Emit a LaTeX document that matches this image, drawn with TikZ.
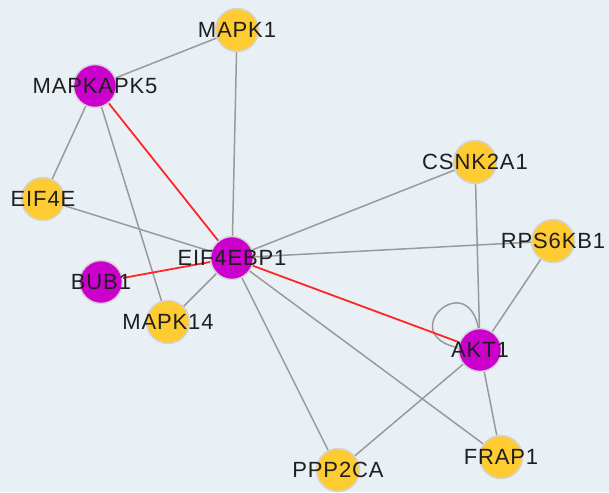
\documentclass[tikz,border=0pt]{standalone}
\usepackage{fontspec}
\newfontfamily\genefont[LetterSpace=4]{Liberation Sans}
\usepackage{tikz}

\definecolor{bgblue}{HTML}{E8F0F6}
\definecolor{geneyellow}{HTML}{FECB33}
\definecolor{genemagenta}{HTML}{CC00CC}
\definecolor{ringgrey}{HTML}{D4D4D4}
\definecolor{edgegrey}{HTML}{9A9A9A}
\definecolor{hitred}{HTML}{FF2626}

\pgfdeclarelayer{edges}
\pgfsetlayers{edges,main}

\begin{document}
\begin{tikzpicture}[x=1pt, y=-1pt,
	gene/.style={circle, draw=ringgrey, line width=1.5pt, minimum size=43pt, inner sep=0pt},
	target/.style={gene, fill=geneyellow},
	hub/.style={gene, fill=genemagenta},
	every label/.style={font=\genefont\fontsize{22pt}{22pt}\selectfont, text=black!88},
	link/.style={draw=edgegrey, line width=1.5pt},
	hit/.style={draw=hitred, line width=1.8pt}]
	\begin{pgfonlayer}{edges}
	\fill[bgblue] (0,0) rectangle (609,492);
	\end{pgfonlayer}
	\useasboundingbox (0,0) rectangle (609,492);

	\node[target, label=center:MAPK1] (mapk1) at (237,30) {};
	\node[hub, label=center:MAPKAPK5] (mapkapk5) at (95,86) {};
	\node[target, label=center:EIF4E] (eif4e) at (43,199) {};
	\node[hub, label=center:EIF4EBP1] (eif4ebp1) at (232,258) {};
	\node[hub, label=center:BUB1] (bub1) at (101,282) {};
	\node[target, label=center:MAPK14] (mapk14) at (168,322) {};
	\node[target, label=center:CSNK2A1] (csnk2a1) at (475,162) {};
	\node[target, label=center:RPS6KB1] (rps6kb1) at (553,241) {};
	\node[hub, label=center:AKT1] (akt1) at (480,350) {};
	\node[target, label=center:FRAP1] (frap1) at (501,457) {};
	\node[target, label=center:PPP2CA] (ppp2ca) at (338,470) {};

	\begin{pgfonlayer}{edges}
	\draw[link] (mapk1.center) -- (mapkapk5.center);
	\draw[link] (mapk1.center) -- (eif4ebp1.center);
	\draw[link] (mapkapk5.center) -- (eif4e.center);
	\draw[link] (mapkapk5.center) -- (mapk14.center);
	\draw[link] (eif4e.center) -- (eif4ebp1.center);
	\draw[link] (eif4ebp1.center) -- (mapk14.center);
	\draw[link] (eif4ebp1.center) -- (csnk2a1.center);
	\draw[link] (eif4ebp1.center) -- (rps6kb1.center);
	\draw[link] (eif4ebp1.center) -- (ppp2ca.center);
	\draw[link] (eif4ebp1.center) -- (frap1.center);
	\draw[link] (csnk2a1.center) -- (akt1.center);
	\draw[link] (rps6kb1.center) -- (akt1.center);
	\draw[link] (akt1.center) -- (frap1.center);
	\draw[link] (akt1.center) -- (ppp2ca.center);
	% self loop on AKT1
	\draw[link] (akt1.center) .. controls (482,245) and (372,348) .. (akt1.center);
	\draw[hit] (mapkapk5.center) -- (eif4ebp1.center);
	\draw[hit] (bub1.center) -- (eif4ebp1.center);
	\draw[hit] (eif4ebp1.center) -- (akt1.center);
	\end{pgfonlayer}
\end{tikzpicture}
\end{document}
